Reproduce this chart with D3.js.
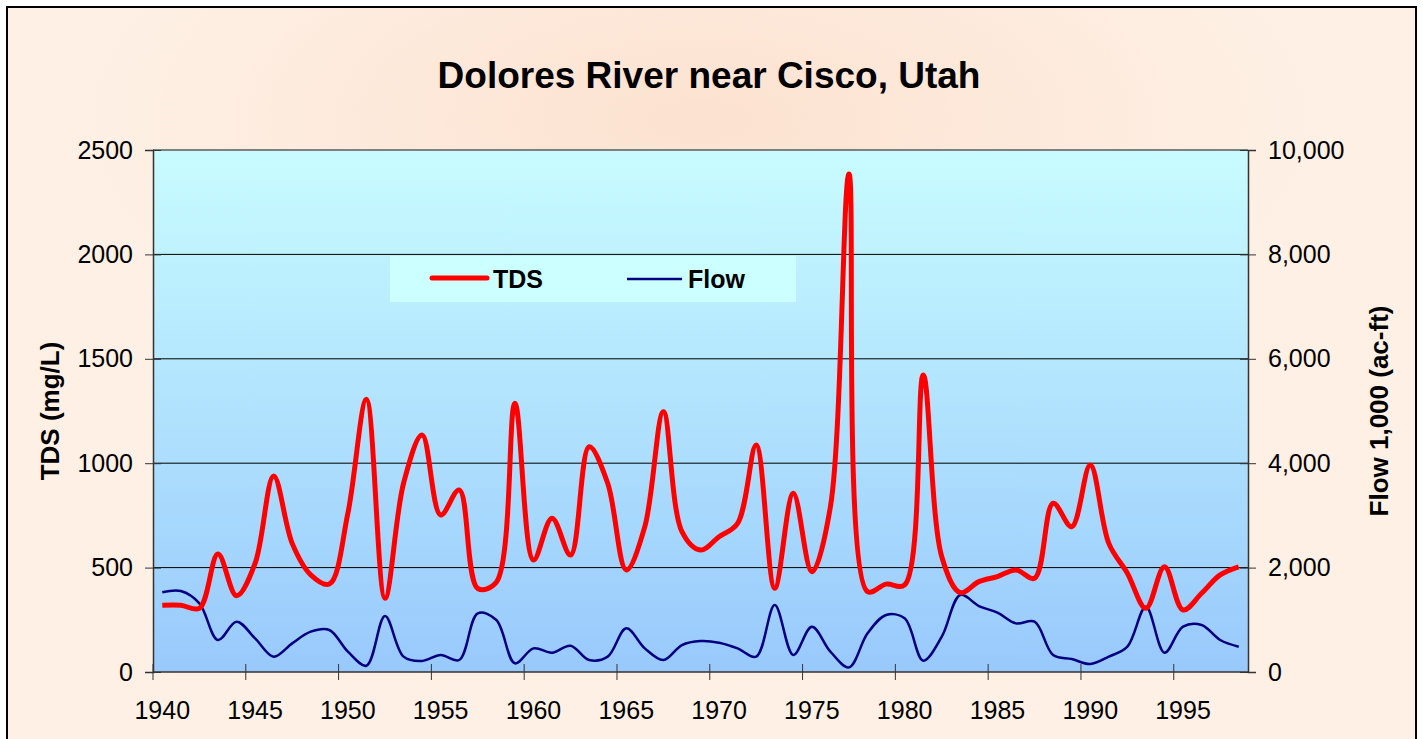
<!DOCTYPE html>
<html>
<head>
<meta charset="utf-8">
<script src="https://cdn.jsdelivr.net/npm/d3@7"></script>
<style>
  body { margin: 0; background: #fff; }
  text { font-family: Arial, "Liberation Sans", sans-serif; }
</style>
</head>
<body>
<div id="chart"></div>
<script>
// years on the category axis
const years = [1940, 1941, 1942, 1943, 1944, 1945, 1946, 1947, 1948, 1949,
  1950, 1951, 1952, 1953, 1954, 1955, 1956, 1957, 1958, 1959,
  1960, 1961, 1962, 1963, 1964, 1965, 1966, 1967, 1968, 1969,
  1970, 1971, 1972, 1973, 1974, 1975, 1976, 1977, 1978, 1979,
  1980, 1981, 1982, 1983, 1984, 1985, 1986, 1987, 1988, 1989,
  1990, 1991, 1992, 1993, 1994, 1995, 1996, 1997, 1998];

// TDS (mg/L), left axis
const tds = [320, 320, 305, 565, 365, 520, 939, 616, 465, 421,
  760, 1306, 353, 904, 1135, 752, 872, 400, 430, 1287,
  536, 736, 560, 1079, 904, 489, 696, 1247, 672, 584,
  648, 712, 1087, 401, 856, 480, 792, 2385, 385, 421,
  417, 1422, 552, 380, 433, 457, 489, 449, 808, 696,
  991, 616, 473, 305, 504, 297, 377, 465, 504];

// Flow (1,000 ac-ft), right axis
const flow = [1527, 1552, 1315, 613, 964, 645, 294, 549, 773, 805,
  390, 120, 1073, 294, 211, 326, 230, 1124, 996, 166,
  453, 370, 504, 230, 294, 837, 453, 230, 517, 594,
  562, 453, 294, 1284, 326, 868, 390, 89, 741, 1092,
  1028, 217, 677, 1475, 1264, 1137, 932, 964, 326, 249,
  153, 294, 485, 1252, 370, 868, 900, 613, 485];

const tdsTicks = [0, 500, 1000, 1500, 2000, 2500];
const flowTicks = [0, 2000, 4000, 6000, 8000, 10000];
const yearTicks = [1940, 1945, 1950, 1955, 1960, 1965, 1970, 1975, 1980, 1985, 1990, 1995];

const W = 1423, H = 739;
const plot = { left: 153, right: 1248, top: 150, bottom: 672 };

const svg = d3.select("#chart").append("svg")
  .attr("width", W)
  .attr("height", H);

const defs = svg.append("defs");

// peach chart background, darker glow behind the title
const bg = defs.append("radialGradient")
  .attr("id", "bgGlow")
  .attr("gradientUnits", "userSpaceOnUse")
  .attr("cx", 700).attr("cy", 120).attr("r", 620)
  .attr("gradientTransform", "translate(700,120) scale(1,0.45) translate(-700,-120)");
bg.append("stop").attr("offset", "0%").attr("stop-color", "#fce2d0");
bg.append("stop").attr("offset", "100%").attr("stop-color", "#fef0e5");

const plotGrad = defs.append("linearGradient")
  .attr("id", "plotFill")
  .attr("x1", 0).attr("y1", 0).attr("x2", 0).attr("y2", 1);
plotGrad.append("stop").attr("offset", "0%").attr("stop-color", "#c8fcff");
plotGrad.append("stop").attr("offset", "100%").attr("stop-color", "#99c9fc");

svg.append("rect")
  .attr("x", 7).attr("y", 7)
  .attr("width", 1409).attr("height", 760)
  .attr("fill", "#fef0e5");

svg.append("rect")
  .attr("x", 7).attr("y", 7)
  .attr("width", 1409).attr("height", 760)
  .attr("fill", "url(#bgGlow)")
  .attr("stroke", "#000")
  .attr("stroke-width", 2);

svg.append("rect")
  .attr("x", plot.left).attr("y", plot.top)
  .attr("width", plot.right - plot.left)
  .attr("height", plot.bottom - plot.top)
  .attr("fill", "url(#plotFill)");

const x = d3.scaleBand()
  .domain(years)
  .range([plot.left, plot.right]);

const yL = d3.scaleLinear()
  .domain([0, 2500])
  .range([plot.bottom, plot.top]);

const yR = d3.scaleLinear()
  .domain([0, 10000])
  .range([plot.bottom, plot.top]);

const cx = d => x(d) + x.bandwidth() / 2;

// gridlines
svg.append("g")
  .selectAll("line")
  .data(tdsTicks.filter(t => t > 0))
  .join("line")
  .attr("x1", plot.left).attr("x2", plot.right)
  .attr("y1", d => yL(d)).attr("y2", d => yL(d))
  .attr("stroke", d => d === 2500 ? "#808080" : "#000")
  .attr("stroke-width", d => d === 2500 ? 2 : 1);

// left axis
const leftAxis = svg.append("g")
  .attr("transform", `translate(${plot.left},0)`)
  .call(d3.axisLeft(yL).tickValues(tdsTicks).tickFormat(d3.format("d")).tickSize(8).tickPadding(12));
leftAxis.selectAll(".tick line").attr("x2", -8).attr("x1", 8).attr("stroke", "#333");
leftAxis.select(".domain").attr("stroke", "#333").attr("stroke-width", 1.5);

// right axis
const rightAxis = svg.append("g")
  .attr("transform", `translate(${plot.right},0)`)
  .call(d3.axisRight(yR).tickValues(flowTicks).tickFormat(d3.format(",")).tickSize(8).tickPadding(12));
rightAxis.selectAll(".tick line").attr("x1", -8).attr("x2", 8).attr("stroke", "#333");
rightAxis.select(".domain").attr("stroke", "#333").attr("stroke-width", 1.5);

// bottom axis: ticks on category boundaries, labels at category centres
const bottom = svg.append("g");
bottom.append("line")
  .attr("x1", plot.left).attr("x2", plot.right)
  .attr("y1", plot.bottom).attr("y2", plot.bottom)
  .attr("stroke", "#333").attr("stroke-width", 1.5);
bottom.selectAll("line.tick")
  .data(yearTicks)
  .join("line")
  .attr("class", "tick")
  .attr("x1", d => x(d)).attr("x2", d => x(d))
  .attr("y1", plot.bottom - 8).attr("y2", plot.bottom + 8)
  .attr("stroke", "#333");
bottom.selectAll("text")
  .data(yearTicks)
  .join("text")
  .attr("x", d => cx(d))
  .attr("y", 719)
  .attr("text-anchor", "middle")
  .attr("font-size", 25)
  .text(d => d);

svg.selectAll(".tick text")
  .attr("font-size", 25)
  .attr("fill", "#000");

// lines
const tdsLine = d3.line()
  .x((d, i) => cx(years[i]))
  .y(d => yL(d))
  .curve(d3.curveCatmullRom.alpha(0.5));

const flowLine = d3.line()
  .x((d, i) => cx(years[i]))
  .y(d => yR(d))
  .curve(d3.curveCatmullRom.alpha(0.5));

svg.append("path")
  .datum(flow)
  .attr("fill", "none")
  .attr("stroke", "#000080")
  .attr("stroke-width", 2.5)
  .attr("d", flowLine);

svg.append("path")
  .datum(tds)
  .attr("fill", "none")
  .attr("stroke", "#ff0000")
  .attr("stroke-width", 5)
  .attr("stroke-linejoin", "round")
  .attr("d", tdsLine);

// legend
const legend = svg.append("g");
legend.append("rect")
  .attr("x", 390).attr("y", 256)
  .attr("width", 406).attr("height", 46)
  .attr("fill", "#ccffff");
legend.append("line")
  .attr("x1", 432).attr("x2", 487).attr("y1", 278).attr("y2", 278)
  .attr("stroke", "#ff0000").attr("stroke-width", 5).attr("stroke-linecap", "round");
legend.append("text")
  .attr("x", 493).attr("y", 288)
  .attr("font-size", 25).attr("font-weight", "bold")
  .text("TDS");
legend.append("line")
  .attr("x1", 627).attr("x2", 682).attr("y1", 279).attr("y2", 279)
  .attr("stroke", "#000080").attr("stroke-width", 2.5);
legend.append("text")
  .attr("x", 688).attr("y", 288)
  .attr("font-size", 25).attr("font-weight", "bold")
  .text("Flow");

// titles
svg.append("text")
  .attr("x", 709).attr("y", 88)
  .attr("text-anchor", "middle")
  .attr("font-size", 37).attr("font-weight", "bold")
  .text("Dolores River near Cisco, Utah");

svg.append("text")
  .attr("transform", `translate(59, ${(plot.top + plot.bottom) / 2}) rotate(-90)`)
  .attr("text-anchor", "middle")
  .attr("font-size", 26).attr("font-weight", "bold")
  .text("TDS (mg/L)");

svg.append("text")
  .attr("transform", `translate(1388, ${(plot.top + plot.bottom) / 2}) rotate(-90)`)
  .attr("text-anchor", "middle")
  .attr("font-size", 26).attr("font-weight", "bold")
  .text("Flow 1,000 (ac-ft)");
</script>
</body>
</html>
